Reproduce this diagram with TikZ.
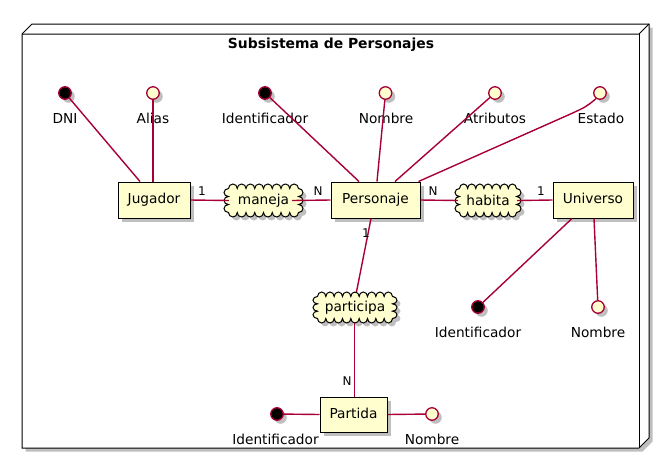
\documentclass[tikz,border=0pt]{standalone}
\usepackage{fontspec}
\setmainfont{DejaVu Sans}
\usetikzlibrary{shadows}
\definecolor{entfill}{HTML}{FEFECE}
\definecolor{lnk}{HTML}{A80036}
\tikzset{
  shd/.style={drop shadow={shadow xshift=3.5pt,shadow yshift=-3.5pt,opacity=0.25,fill=black}},
  entity/.style={rectangle,draw=black,fill=entfill,line width=1pt,minimum height=36pt,inner sep=0pt,
    font=\fontsize{13.7}{16}\selectfont,text height=10pt,text depth=3pt,shd},
  keyattr/.style={circle,draw=lnk,fill=black,line width=1.3pt,minimum size=12.5pt,inner sep=0pt,shd},
  plainattr/.style={circle,draw=lnk,fill=entfill,line width=1.3pt,minimum size=12.5pt,inner sep=0pt,shd},
  attrlabel/.style={anchor=base,inner sep=0pt,font=\fontsize{13.7}{16}\selectfont},
  cardlabel/.style={inner sep=0pt,font=\fontsize{12}{14}\selectfont},
  cloudsty/.style={draw=black,fill=entfill,line width=1pt,shd},
  reltext/.style={rectangle,draw=none,inner sep=0pt,font=\fontsize{13.7}{16}\selectfont},
  conn/.style={draw=lnk,line width=1.4pt},
  frame/.style={draw=black,line width=1pt,fill=white}
}
\newcommand\rcloud[8]{%
  \pgfmathsetmacro\rcA{#2+4.5}%
  \pgfmathsetmacro\rcB{#3+4.5}%
  \pgfmathsetmacro\rcSX{(#4-#2-9)/#6/2}%
  \pgfmathsetmacro\rcSY{(#5-#3-9)/#7/2}%
  \pgfmathsetmacro\rcW{#4-#2}%
  \pgfmathsetmacro\rcH{#5-#3}%
  \pgfmathsetmacro\rcCX{(#2+#4)/2}%
  \pgfmathsetmacro\rcCY{(#3+#5)/2}%
  \filldraw[cloudsty] (\rcA,\rcB)
    \foreach \k in {1,...,#6}{ arc[start angle=180,end angle=360,x radius=\rcSX,y radius=4.5] }
    \foreach \k in {1,...,#7}{ arc[start angle=-90,end angle=90,x radius=4.5,y radius=\rcSY] }
    \foreach \k in {1,...,#6}{ arc[start angle=0,end angle=180,x radius=\rcSX,y radius=4.5] }
    \foreach \k in {1,...,#7}{ arc[start angle=90,end angle=270,x radius=4.5,y radius=\rcSY] }
    -- cycle;
  \node[reltext,minimum width=\rcW pt,minimum height=\rcH pt] (#1) at (\rcCX,\rcCY) {#8};
}
\begin{document}
\begin{tikzpicture}[x=1pt,y=-1pt]
\useasboundingbox (0,0) rectangle (670,459);
% outer 3D node
\path[frame,shd] (22,34) -- (32,24) -- (649,24) -- (649,438) -- (639,448) -- (22,448) -- cycle;
\draw[line width=1pt] (22,34) -- (639,34) -- (649,24);
\draw[line width=1pt] (639,34) -- (639,448);
\node[font=\bfseries\fontsize{13.9}{16}\selectfont] (title) at (331,45) {Subsistema de Personajes};

% entities
\node[entity,minimum width=72pt] (jugador) at (154,200) {Jugador};
\node[entity,minimum width=89pt] (personaje) at (375.5,200) {Personaje};
\node[entity,minimum width=80pt] (universo) at (593,200) {Universo};
\node[entity,minimum width=67pt,minimum height=35pt] (partida) at (353.5,414.5) {Partida};

% relationships
\rcloud{maneja}{224}{184}{303}{217}{8}{3}{maneja}
\rcloud{habita}{455}{184}{521}{217}{7}{3}{habita}
\rcloud{participa}{313}{292}{397}{323}{9}{3}{participa}

% attributes
\node[keyattr] (aDNI) at (65,93) {};
\node[attrlabel] (lDNI) at (65,123.5) {DNI};
\node[plainattr] (aAlias) at (153,93) {};
\node[attrlabel] (lAlias) at (153,123.5) {Alias};
\node[keyattr] (aPId) at (265,93) {};
\node[attrlabel] (lPId) at (265,123.5) {Identificador};
\node[plainattr] (aPNombre) at (385.5,93) {};
\node[attrlabel] (lPNombre) at (386,123.5) {Nombre};
\node[plainattr] (aAtrib) at (495,93) {};
\node[attrlabel] (lAtrib) at (495,123.5) {Atributos};
\node[plainattr] (aEstado) at (600,93) {};
\node[attrlabel] (lEstado) at (601,123.5) {Estado};
\node[keyattr] (aUId) at (478,307) {};
\node[attrlabel] (lUId) at (478,337.5) {Identificador};
\node[plainattr] (aUNombre) at (598,307) {};
\node[attrlabel] (lUNombre) at (598,337.5) {Nombre};
\node[keyattr] (aGId) at (277,414) {};
\node[attrlabel] (lGId) at (275.5,444) {Identificador};
\node[plainattr] (aGNombre) at (432,414) {};
\node[attrlabel] (lGNombre) at (432,444) {Nombre};

% connectors
\draw[conn] (aDNI) -- ([xshift=-14pt]jugador.north);
\draw[conn] (aAlias) -- (jugador.north -| aAlias);
\draw[conn] (aPId) -- ([xshift=-16.5pt]personaje.north);
\draw[conn] (aPNombre) -- ([xshift=1.5pt]personaje.north);
\draw[conn] (aAtrib) -- ([xshift=19.5pt]personaje.north);
\draw[conn] (aEstado.235) .. controls (586,107) .. (566,116) -- ([xshift=43pt]personaje.north);
\draw[conn] (jugador.east) -- ([xshift=5pt]maneja.west);
\draw[conn] ([xshift=-11pt]maneja.east) -- (personaje.west);
\draw[conn] (personaje.east) -- ([xshift=3pt]habita.west);
\draw[conn] ([xshift=-4pt]habita.east) -- (universo.west);
\draw[conn] ([xshift=-4.5pt]personaje.south) -- ([xshift=1.5pt]participa.north);
\draw[conn] ([xshift=-0.5pt]participa.south) -- ([xshift=1pt]partida.north);
\draw[conn] ([xshift=-21pt]universo.south) -- (aUId);
\draw[conn] ([xshift=1pt]universo.south) -- (aUNombre);
\draw[conn] (aGId) -- (partida.west);
\draw[conn] (partida.east) -- (aGNombre);

% cardinalities
\node[cardlabel] (c1) at (202,191) {1};
\node[cardlabel] (c2) at (318,191) {N};
\node[cardlabel] (c3) at (433,191) {N};
\node[cardlabel] (c4) at (541,191) {1};
\node[cardlabel] (c5) at (366,233) {1};
\node[cardlabel] (c6) at (347,381) {N};
\end{tikzpicture}
\end{document}
